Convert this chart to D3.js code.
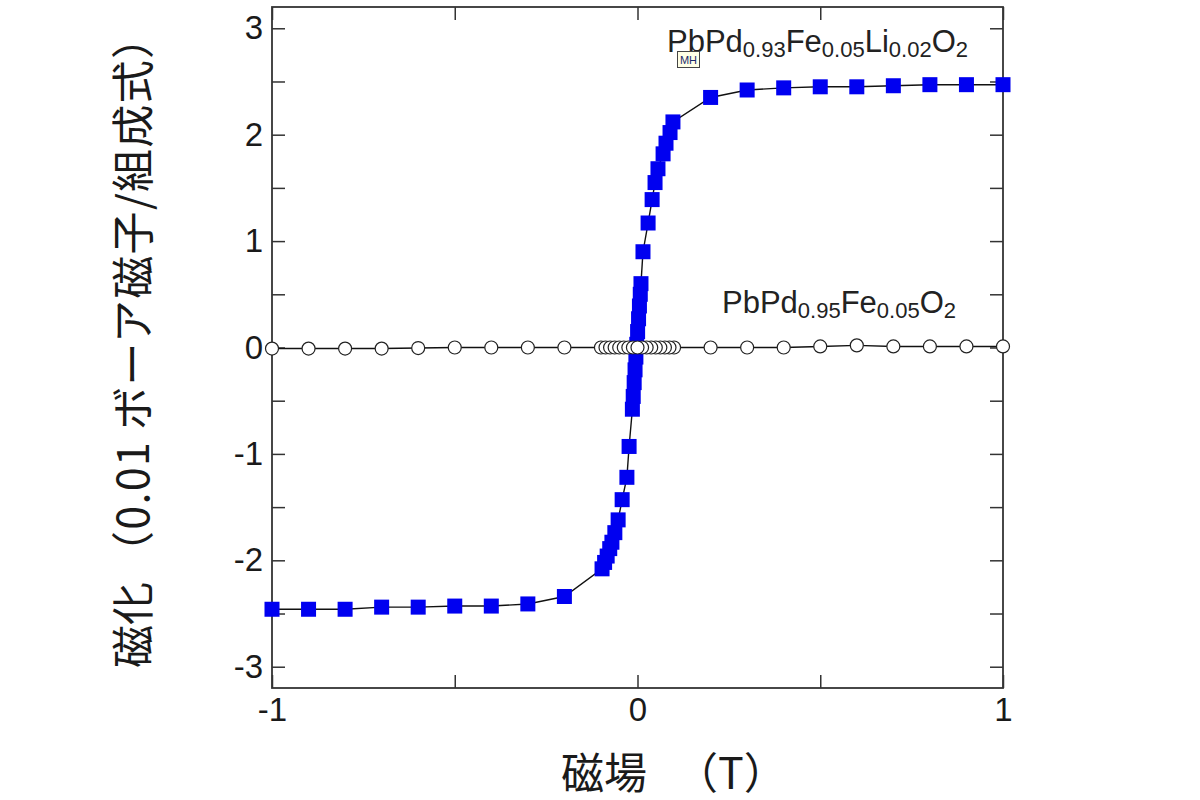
<!DOCTYPE html>
<html><head><meta charset="utf-8">
<script src="https://cdn.jsdelivr.net/npm/d3@7"></script>
<style>body{margin:0;background:#fff}</style>
</head><body>
<svg id="c" width="1200" height="800"></svg>
<script>
// PbPd0.93Fe0.05Li0.02O2 (blue squares)
const fieldLi = [-1.0,-0.9,-0.8,-0.7,-0.6,-0.5,-0.4,-0.3,-0.2,
  -0.097,-0.090,-0.083,-0.076,-0.070,-0.062,-0.053,-0.042,-0.029,-0.023,
  -0.014,-0.0117,-0.0091,-0.0067,-0.0044,-0.002,0.0003,0.0029,0.0053,0.0076,0.0095,
  0.015,0.029,0.040,0.048,0.056,0.070,0.078,0.089,0.097,
  0.2,0.3,0.4,0.5,0.6,0.7,0.8,0.9,1.0];
const momentLi = [-2.46,-2.46,-2.46,-2.44,-2.44,-2.43,-2.43,-2.41,-2.34,
  -2.08,-2.02,-1.96,-1.89,-1.83,-1.74,-1.62,-1.43,-1.22,-0.93,
  -0.58,-0.46,-0.33,-0.21,-0.09,0.03,0.15,0.27,0.39,0.50,0.60,
  0.90,1.17,1.39,1.55,1.68,1.82,1.92,2.02,2.12,
  2.35,2.42,2.44,2.45,2.45,2.46,2.47,2.47,2.47];

// PbPd0.95Fe0.05O2 (open circles)
const fieldFe = [-1.0,-0.9,-0.8,-0.7,-0.6,-0.5,-0.4,-0.3,-0.2,
  -0.1,-0.0875,-0.075,-0.0625,-0.05,-0.0375,-0.025,-0.0125,0,
  0.0125,0.025,0.0375,0.05,0.0625,0.075,0.0875,0.1,
  0.2,0.3,0.4,0.5,0.6,0.7,0.8,0.9,1.0];
const momentFe = [-0.01,-0.01,-0.01,-0.01,-0.005,0,0,0,0,
  0,0,0,0,0,0,0,0,0,
  0,0,0,0,0,0,0,0,
  0,0,0,0.01,0.02,0.01,0.01,0.01,0.01];

const xTickValues = [-1,-0.5,0,0.5,1];
const xTickLabels = ["-1","","0","","1"];
const yTickValues = [-3,-2.5,-2,-1.5,-1,-0.5,0,0.5,1,1.5,2,2.5,3];
const yTickLabels = ["-3","","-2","","-1","","0","","1","","2","","3"];

const svg = d3.select("#c");
const L = 272, R = 1003, T = 7, B = 688;
const x = d3.scaleLinear().domain([-1,1]).range([L,R]);
const y = d3.scaleLinear().domain([-3.2,3.2]).range([B,T]);

const tickFont = "'Liberation Sans', Arial, sans-serif";
function styleAxis(g){
  g.select(".domain").remove();
  g.selectAll(".tick line").attr("stroke","#333").attr("stroke-width",1.5);
  g.selectAll(".tick text").attr("fill","#1a1a1a").style("font-family",tickFont).style("font-size","33px");
}
svg.append("g").attr("transform",`translate(${L},0)`)
  .call(d3.axisLeft(y).tickValues(yTickValues).tickSize(-13).tickPadding(9)
    .tickFormat((d,i)=>yTickLabels[i])).call(styleAxis);
svg.append("g").attr("transform",`translate(${R},0)`)
  .call(d3.axisRight(y).tickValues(yTickValues).tickSize(-13).tickFormat(()=>"")).call(styleAxis);
svg.append("g").attr("transform",`translate(0,${B})`)
  .call(d3.axisBottom(x).tickValues(xTickValues).tickSize(-13).tickPadding(10)
    .tickFormat((d,i)=>xTickLabels[i])).call(styleAxis);
svg.append("g").attr("transform",`translate(0,${T})`)
  .call(d3.axisTop(x).tickValues(xTickValues).tickSize(-13).tickFormat(()=>"")).call(styleAxis);

svg.append("rect").attr("x",L).attr("y",T).attr("width",R-L).attr("height",B-T)
  .attr("fill","none").attr("stroke","#333").attr("stroke-width",1.8);

const dataLi = fieldLi.map((f,i)=>({f, m: momentLi[i]}));
const dataFe = fieldFe.map((f,i)=>({f, m: momentFe[i]}));
const line = d3.line().x(d=>x(d.f)).y(d=>y(d.m));

svg.append("path").datum(dataLi).attr("d",line).attr("fill","none").attr("stroke","#111").attr("stroke-width",1.4);
svg.append("g").selectAll("rect").data(dataLi).join("rect")
  .attr("x",d=>x(d.f)-7.5).attr("y",d=>y(d.m)-7.5).attr("width",15).attr("height",15)
  .attr("fill","#0000f0");

svg.append("path").datum(dataFe).attr("d",line).attr("fill","none").attr("stroke","#111").attr("stroke-width",1.4);
const feOrder = dataFe.slice().sort((a,b)=>Math.abs(b.f)-Math.abs(a.f));
svg.append("g").selectAll("circle").data(feOrder).join("circle")
  .attr("cx",d=>x(d.f)).attr("cy",d=>y(d.m)).attr("r",6.5)
  .attr("fill","#fff").attr("stroke","#222").attr("stroke-width",1.2);

// series labels
function formula(parts, x0, yb){
  const t = svg.append("text").attr("x",x0).attr("y",yb)
    .style("font-family",tickFont).style("font-size","31px").attr("fill","#222");
  parts.forEach(p=>{
    t.append("tspan").text(p[0]).style("font-size", p[1] ? "22px" : "31px")
      .attr("dy", p[1] ? 5 : (p[2] ? -5 : 0));
  });
}
formula([["PbPd"],["0.93",1],["Fe",0,1],["0.05",1],["Li",0,1],["0.02",1],["O",0,1],["2",1]], 667, 52);
formula([["PbPd"],["0.95",1],["Fe",0,1],["0.05",1],["O",0,1],["2",1]], 722, 313);

// MH tag
svg.append("rect").attr("x",677.5).attr("y",51.5).attr("width",22).attr("height",16)
  .attr("fill","#ffffe6").attr("stroke","#444").attr("stroke-width",1);
svg.append("text").attr("x",688.5).attr("y",64).attr("text-anchor","middle")
  .style("font-family",tickFont).style("font-size","11px").attr("fill","#1a2a6a").text("MH");

// axis titles
const cjk = "'Noto Sans CJK JP', sans-serif";
svg.append("text").attr("transform","translate(149,668) rotate(-90)")
  .style("font-family",cjk).style("font-size","43px").attr("fill","#1a1a1a").text("磁化");
svg.append("text").attr("transform","translate(149,574) rotate(-90)")
  .attr("textLength",558).attr("lengthAdjust","spacing")
  .style("font-family",cjk).style("font-size","43px").attr("fill","#1a1a1a").text("（0.01 ボーア磁子/組成式）");
svg.append("text").attr("x",561).attr("y",789)
  .style("font-family",cjk).style("font-size","43px").attr("fill","#1a1a1a").text("磁場");
svg.append("text").attr("x",731).attr("y",789).attr("text-anchor","middle")
  .style("font-family",cjk).style("font-size","43px").attr("fill","#1a1a1a").text("（T）");
</script>
</body></html>
